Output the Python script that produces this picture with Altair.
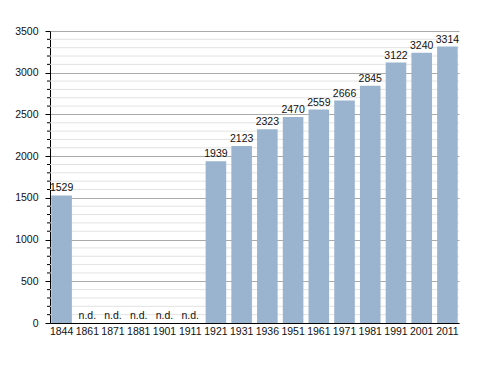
import altair as alt
import pandas as pd

years = ["1844", "1861", "1871", "1881", "1901", "1911", "1921", "1931", "1936",
         "1951", "1961", "1971", "1981", "1991", "2001", "2011"]
population = [1529, None, None, None, None, None, 1939, 2123, 2323,
              2470, 2559, 2666, 2845, 3122, 3240, 3314]
major_ticks = [0, 500, 1000, 1500, 2000, 2500, 3000, 3500]
minor_ticks = [v for v in range(100, 3500, 100) if v % 500 != 0]

df = pd.DataFrame({
    "year": years,
    "pop": population,
})
df["label"] = [("n.d." if p is None or pd.isna(p) else str(int(p))) for p in df["pop"]]
df["ypos"] = df["pop"].fillna(0)
minor_df = pd.DataFrame({"v": minor_ticks})

FONT = "Liberation Sans"
FS = 10.5
yscale = alt.Scale(domain=[0, 3500], nice=False)
xenc = alt.X("year:N", sort=years, title=None,
             scale=alt.Scale(paddingInner=0.2, paddingOuter=0.05),
             axis=alt.Axis(labelAngle=0, ticks=False, domainColor="#000", domainWidth=1,
                           labelFont=FONT, labelFontSize=FS, labelColor="#111",
                           labelPadding=3))

minor_grid = alt.Chart(minor_df).mark_rule(color="#e2e2e2", strokeWidth=1).encode(
    y=alt.Y("v:Q", scale=yscale),
    x=alt.value(0), x2=alt.value(409))
minor_tick = alt.Chart(minor_df).mark_rule(color="#000", strokeWidth=1).encode(
    y=alt.Y("v:Q", scale=yscale),
    x=alt.value(-3), x2=alt.value(0))

bars = alt.Chart(df).transform_filter("datum.pop != null").mark_bar(color="#9ab3cf").encode(
    x=xenc,
    y=alt.Y("pop:Q", scale=yscale, title=None,
            axis=alt.Axis(values=major_ticks, format="d", grid=True, gridColor="#aaaaaa",
                          domainColor="#000", tickColor="#000", tickSize=5,
                          labelFont=FONT, labelFontSize=FS, labelColor="#111",
                          labelPadding=7)))

labels = alt.Chart(df).mark_text(font=FONT, fontSize=FS, color="#111", dy=-7).encode(
    x=alt.X("year:N", sort=years),
    y=alt.Y("ypos:Q", scale=yscale),
    text="label:N")

chart = alt.layer(minor_grid, bars, minor_tick, labels).properties(
    width=409, height=292,
    autosize=alt.AutoSizeParams(type="none"),
    padding={"left": 42, "top": 23, "right": 10, "bottom": 40},
    background="#ffffff",
).configure_view(stroke=None)

chart.save("out.html", embed_options={"renderer": "svg", "actions": False})
